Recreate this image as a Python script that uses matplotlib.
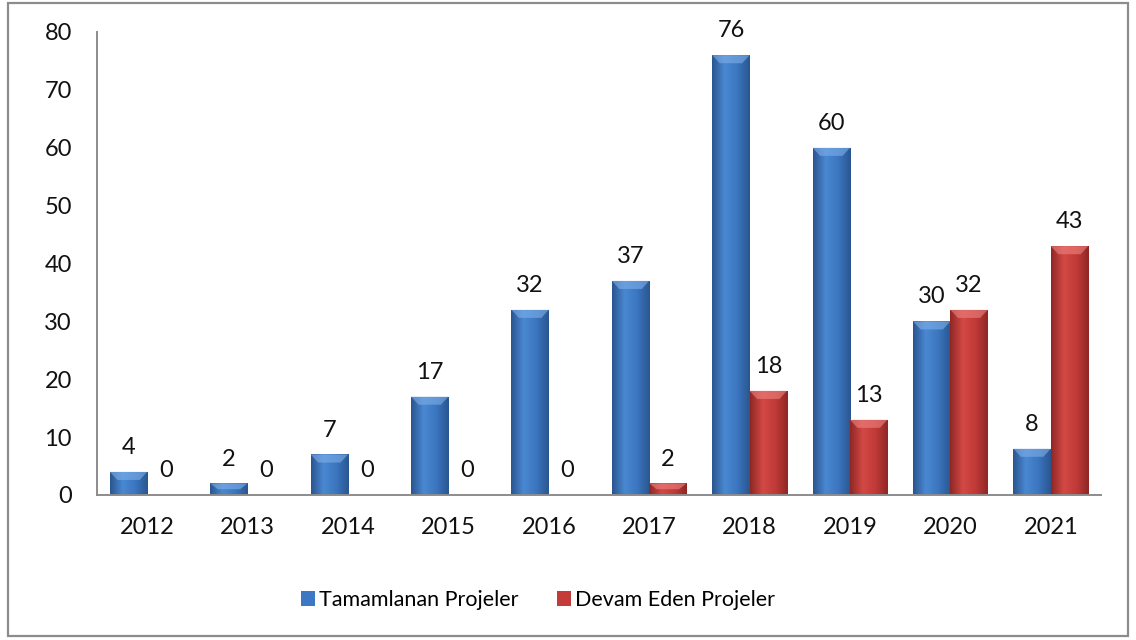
import numpy as np
import matplotlib.pyplot as plt
from matplotlib.patches import Rectangle, Polygon
from matplotlib.colors import LinearSegmentedColormap

years = ['2012', '2013', '2014', '2015', '2016', '2017', '2018', '2019', '2020', '2021']
tamamlanan = [4, 2, 7, 17, 32, 37, 76, 60, 30, 8]
devam = [0, 0, 0, 0, 0, 2, 18, 13, 32, 43]
series_names = ['Tamamlanan Projeler', 'Devam Eden Projeler']

plt.rcParams['font.family'] = ['Lato', 'DejaVu Sans']

fig = plt.figure(figsize=(11.36, 6.4), dpi=100)
ax = fig.add_axes([0.0854, 0.2266, 0.8838, 0.7234])

x = np.arange(len(years))
w = 0.372

styles = [
    ('#3c78c3', ['#2a5690', '#4a88d2', '#3b76bf', '#2a5690'], '#7fb0ea'),
    ('#c43c39', ['#8f2725', '#d24845', '#c23b38', '#8f2725'], '#ef8481'),
]


def shade_bars(bars, cmap_cols, top_col):
    cmap = LinearSegmentedColormap.from_list('b', cmap_cols)
    grad = np.linspace(0, 1, 64).reshape(1, -1)
    for b in bars:
        x0, y0 = b.get_x(), b.get_y()
        bw, bh = b.get_width(), b.get_height()
        if bh <= 0:
            continue
        im = ax.imshow(grad, cmap=cmap, aspect='auto', extent=(x0, x0 + bw, y0, y0 + bh),
                       zorder=2.5, interpolation='bicubic')
        im.set_clip_path(b)
        # bevel on top
        bev = min(1.4, bh * 0.5)
        inset = bw * 0.2
        ax.add_patch(Polygon([(x0, y0 + bh), (x0 + bw, y0 + bh), (x0 + bw - inset, y0 + bh - bev),
                              (x0 + inset, y0 + bh - bev)], closed=True, facecolor=top_col,
                             edgecolor='none', alpha=0.6, zorder=2.6))


for i, (vals, (col, cols, topc)) in enumerate(zip([tamamlanan, devam], styles)):
    off = -w / 2 if i == 0 else w / 2
    bars = ax.bar(x + off, vals, width=w, color=col, edgecolor='none', zorder=2,
                  label=series_names[i])
    shade_bars(bars, cols, topc)
    for xi, v in zip(x + off, vals):
        ax.annotate(str(v), (xi, v), xytext=(0, 10), textcoords='offset points',
                    ha='center', va='bottom', fontsize=17, color='#111111',
                    annotation_clip=False)

ax.set_xlim(-0.5, len(years) - 0.5)
ax.set_ylim(0, 80)
ax.set_yticks(range(0, 81, 10))
ax.set_xticks(x)
ax.set_xticklabels(years)
ax.tick_params(axis='both', length=0, labelsize=17, colors='#111111')
ax.tick_params(axis='y', pad=18)
ax.tick_params(axis='x', pad=16)

for s in ['top', 'right']:
    ax.spines[s].set_visible(False)
ax.spines['left'].set_color('#8c8c8c')
ax.spines['bottom'].set_color('#8c8c8c')
ax.spines['left'].set_linewidth(1.4)
ax.spines['bottom'].set_linewidth(1.4)

leg = fig.legend(loc='center', bbox_to_anchor=(0.4736, 0.0625), ncol=2, frameon=False,
                 fontsize=15.5, handlelength=0.65, handleheight=0.65, handletextpad=0.2,
                 columnspacing=1.75)

fig.patches.append(Rectangle((0.007, 0.006), 0.986, 0.99, transform=fig.transFigure,
                             fill=False, edgecolor='#8c8c8c', linewidth=1.6))

fig.savefig('out.png', dpi=100)
